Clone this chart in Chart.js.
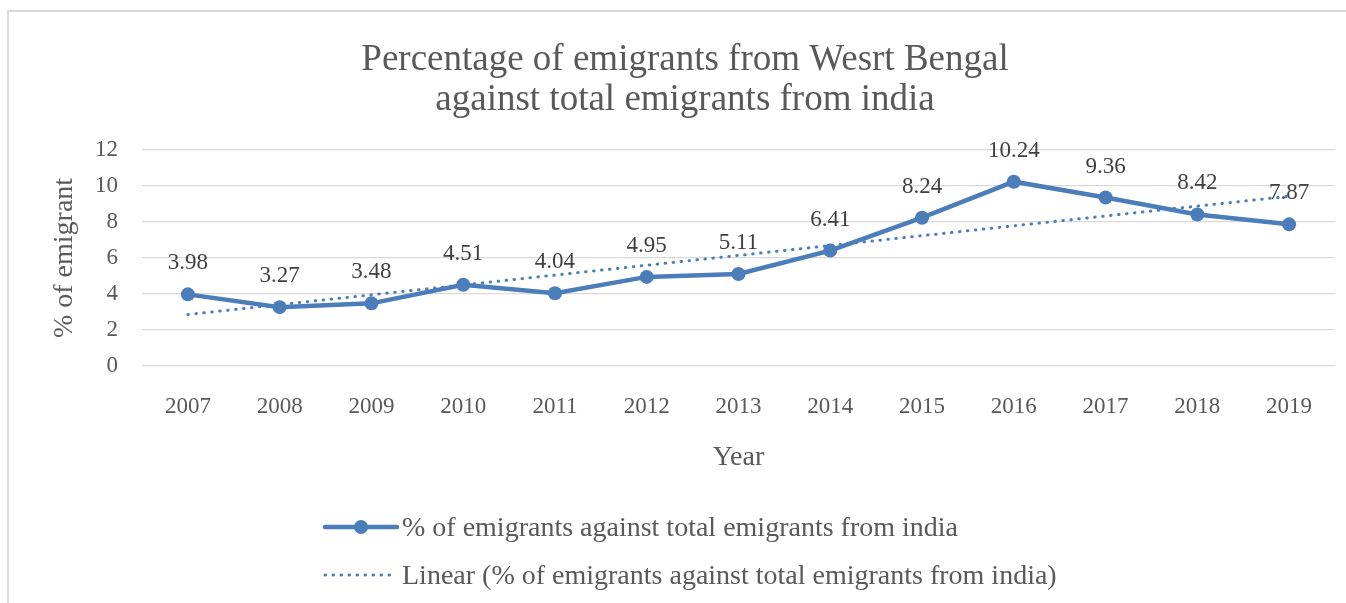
<!DOCTYPE html>
<html>
<head>
<meta charset="utf-8">
<script src="https://cdn.jsdelivr.net/npm/chart.js@4/dist/chart.umd.min.js"></script>
<style>
  html, body { margin: 0; padding: 0; background: #fff; overflow: hidden; }
  #wrap { position: relative; width: 1346px; height: 603px; }
  #frame {
    position: absolute; left: 7px; top: 10px; width: 1400px; height: 700px;
    border: 2px solid #D9D9D9; pointer-events: none;
  }
</style>
</head>
<body>
<div id="wrap">
  <div id="frame"></div>
  <canvas id="emigrantChart"></canvas>
</div>
<script>
// values
const years = ['2007', '2008', '2009', '2010', '2011', '2012', '2013', '2014', '2015', '2016', '2017', '2018', '2019'];
const emigrantShare = [3.98, 3.27, 3.48, 4.51, 4.04, 4.95, 5.11, 6.41, 8.24, 10.24, 9.36, 8.42, 7.87];
const trendYears = ['2007', '2019'];
const trendValues = [2.86, 9.43];
const yTicks = [0, 2, 4, 6, 8, 10, 12];
const titleLines = ['Percentage of emigrants from Wesrt Bengal', 'against total emigrants from india'];

const seriesLabel = '% of emigrants against total emigrants from india';
const trendLabel = 'Linear (% of emigrants against total emigrants from india)';
const blue = '#4A7DBA';
const serif = "'Liberation Serif', 'Times New Roman', serif";

// title centred over the chart frame rather than the canvas
const frameTitle = {
  id: 'frameTitle',
  afterDraw(chart) {
    const ctx = chart.ctx;
    ctx.save();
    ctx.font = '37px ' + serif;
    ctx.fillStyle = '#595959';
    ctx.textAlign = 'center';
    ctx.textBaseline = 'middle';
    titleLines.forEach((line, i) => ctx.fillText(line, 685, 60 + i * 40));
    ctx.restore();
  }
};

// value labels above each point of the main series
const valueLabels = {
  id: 'valueLabels',
  afterDatasetsDraw(chart) {
    const ctx = chart.ctx;
    const meta = chart.getDatasetMeta(0);
    ctx.save();
    ctx.font = '23px ' + serif;
    ctx.fillStyle = '#404040';
    ctx.textAlign = 'center';
    ctx.textBaseline = 'middle';
    meta.data.forEach((pt, i) => {
      ctx.fillText(emigrantShare[i].toFixed(2), pt.x, pt.y - 31);
    });
    ctx.restore();
  }
};

// Excel-like stacked legend at the bottom
const stackedLegend = {
  id: 'stackedLegend',
  afterDraw(chart) {
    const ctx = chart.ctx;
    const x0 = 325, x1 = 397, textX = 402;
    const rows = [527, 575];
    ctx.save();
    ctx.font = '28px ' + serif;
    ctx.fillStyle = '#595959';
    ctx.textBaseline = 'middle';
    ctx.textAlign = 'left';

    // solid series
    ctx.strokeStyle = blue;
    ctx.lineWidth = 4.5;
    ctx.lineCap = 'round';
    ctx.beginPath();
    ctx.moveTo(x0, rows[0]);
    ctx.lineTo(x1, rows[0]);
    ctx.stroke();
    ctx.fillStyle = blue;
    ctx.beginPath();
    ctx.arc((x0 + x1) / 2, rows[0], 7, 0, Math.PI * 2);
    ctx.fill();
    ctx.fillStyle = '#595959';
    ctx.fillText(seriesLabel, textX, rows[0] + 2);

    // dotted trend
    ctx.lineWidth = 3;
    ctx.setLineDash([0.5, 7.5]);
    ctx.beginPath();
    ctx.moveTo(x0, rows[1]);
    ctx.lineTo(x1, rows[1]);
    ctx.stroke();
    ctx.setLineDash([]);
    ctx.fillText(trendLabel, textX, rows[1] + 2);
    ctx.restore();
  }
};

new Chart(document.getElementById('emigrantChart'), {
  type: 'line',
  data: {
    labels: years,
    datasets: [
      {
        label: seriesLabel,
        data: emigrantShare,
        borderColor: blue,
        backgroundColor: blue,
        borderWidth: 4.5,
        pointRadius: 7,
        pointBackgroundColor: blue,
        pointBorderWidth: 0,
        tension: 0,
        order: 1
      },
      {
        label: trendLabel,
        data: trendYears.map((y, i) => ({ x: y, y: trendValues[i] })),
        borderColor: blue,
        borderWidth: 3,
        borderDash: [0.5, 7.5],
        borderCapStyle: 'round',
        pointRadius: 0,
        fill: false,
        order: 2
      }
    ]
  },
  options: {
    responsive: true,
    maintainAspectRatio: false,
    animation: false,
    layout: {
      padding: { left: 8, right: 11, top: 150, bottom: 129 }
    },
    plugins: {
      legend: { display: false },
      tooltip: { enabled: false },
      title: { display: false }
    },
    scales: {
      x: {
        offset: true,
        afterFit(scale) { scale.height = 108; },
        grid: { display: false, drawTicks: false },
        border: { display: false },
        ticks: {
          color: '#595959',
          font: { family: serif, size: 23 },
          padding: 27,
          maxRotation: 0,
          autoSkip: false
        },
        title: {
          display: true,
          text: 'Year',
          color: '#595959',
          font: { family: serif, size: 28 },
          padding: { top: 0, bottom: 0 }
        }
      },
      y: {
        min: 0,
        max: 12,
        afterFit(scale) { scale.width = 134; },
        afterBuildTicks(scale) { scale.ticks = yTicks.map(v => ({ value: v })); },
        grid: { color: '#D9D9D9', lineWidth: 1.3, drawTicks: false },
        border: { display: false },
        ticks: {
          color: '#595959',
          font: { family: serif, size: 23 },
          padding: 24,
          autoSkip: false
        },
        title: {
          display: true,
          text: '% of emigrant',
          color: '#595959',
          font: { family: serif, size: 28 },
          padding: { top: 40, bottom: 0 }
        }
      }
    }
  },
  plugins: [frameTitle, valueLabels, stackedLegend]
});
</script>
</body>
</html>
